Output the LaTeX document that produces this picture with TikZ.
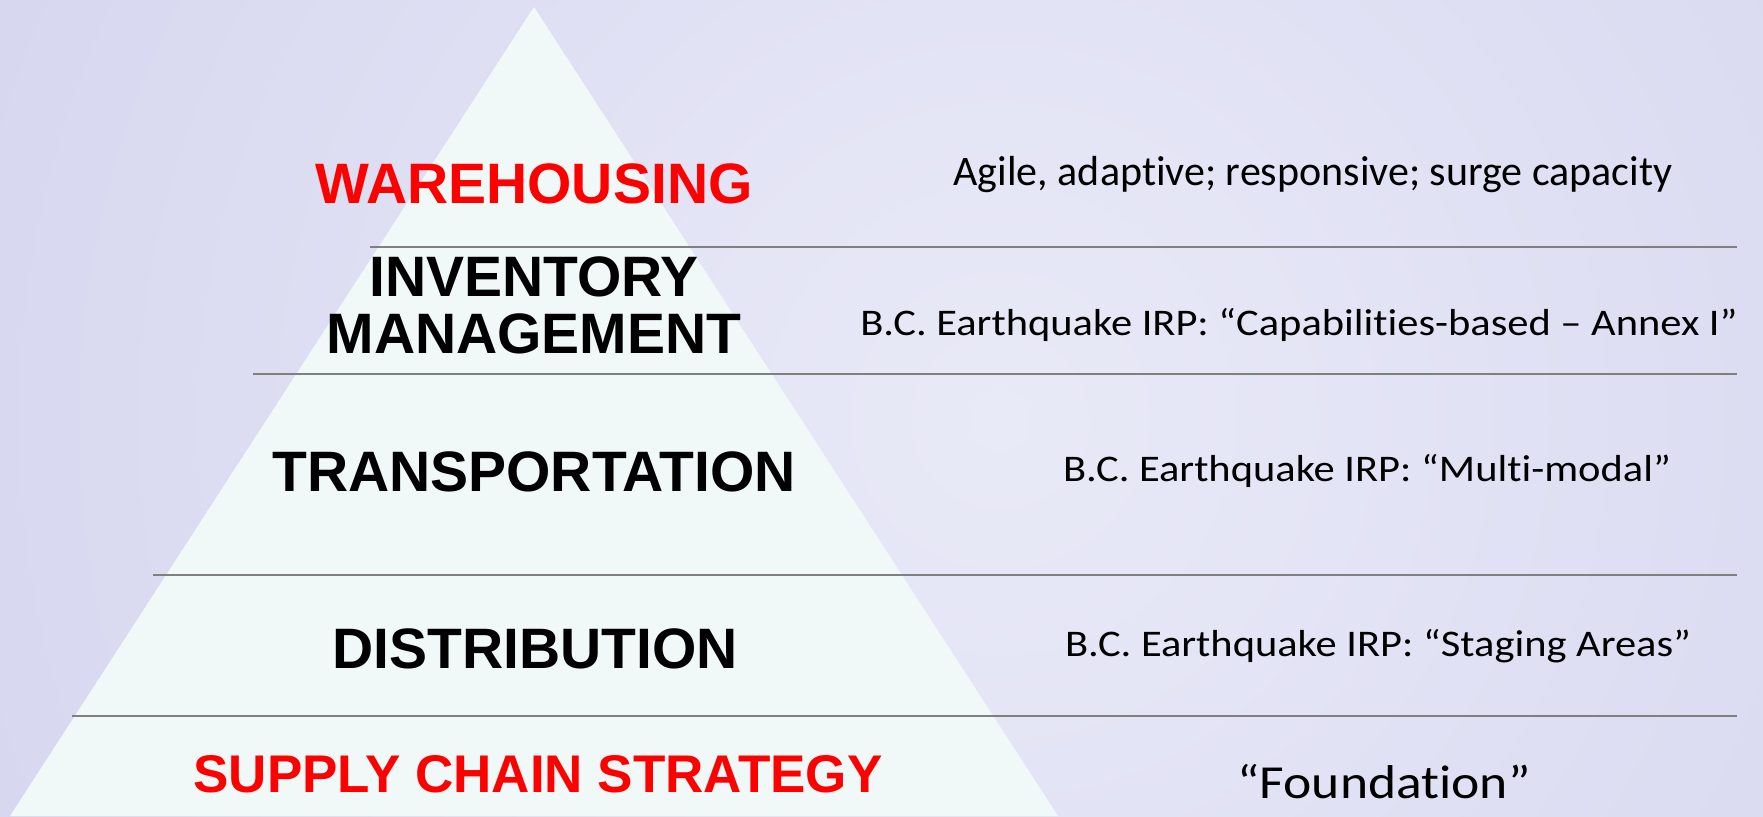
\documentclass[tikz,border=0pt]{standalone}
\usepackage{fontspec}
\setmainfont{Carlito}[Ligatures=NoCommon]
\newfontfamily\widenote{Carlito}[Ligatures=NoCommon, FakeStretch=1.13]
\newfontfamily\tierfont{Liberation Sans}
\usetikzlibrary{positioning}
\definecolor{bgin}{HTML}{E9EAF7}
\definecolor{bgout}{HTML}{C4C4E9}
\definecolor{pyrfill}{HTML}{F1F9F8}
\definecolor{rulegray}{HTML}{808080}
\definecolor{tierred}{HTML}{FF0000}
\tikzset{
	tier/.style={inner sep=0pt, anchor=base, font=\tierfont\bfseries\fontsize{28.5}{28.5}\selectfont, align=center},
	note/.style={inner sep=0pt, anchor=base, font=\widenote\fontsize{18.8}{20}\selectfont},
	tierrule/.style={line width=1.3pt, rulegray}
}

\begin{document}
\begin{tikzpicture}[x=0.5pt, y=-0.5pt]
		%%%%% START %%%%%
		\useasboundingbox (0, 0) rectangle (1763, 816);
		
		\begin{scope}
			\clip (0, 0) rectangle (1763, 816);
			\shade[inner color=bgin, outer color=bgout] (1000, 420) circle (2200);
			\fill[pyrfill] (534, 7) -- (1058, 816) -- (10, 816) -- cycle;
		\end{scope}
		
		% rules between the tiers
		\draw[tierrule] (370, 247) -- (1737, 247);
		\draw[tierrule] (253, 374) -- (1737, 374);
		\draw[tierrule] (153, 575) -- (1737, 575);
		\draw[tierrule] (72, 716) -- (1737, 716);
		
		% pyramid tiers
		\node[tier, text=tierred] (warehousing) at (534, 203) {WAREHOUSING};
		\node[tier, anchor=north] (inventory) at (534, 256) {INVENTORY\\MANAGEMENT};
		\node[tier] (transport) at (534, 491) {TRANSPORTATION};
		\node[tier] (distribution) at (535, 668) {DISTRIBUTION};
		\node[tier, text=tierred, font=\tierfont\bfseries\fontsize{26.5}{26.5}\selectfont] (strategy) at (538, 792) {SUPPLY CHAIN STRATEGY};
		
		% notes on the right
		\node[note, font=\fontsize{21}{22}\selectfont] (agile) at (1313, 185) {Agile, adaptive; responsive; surge capacity};
		\node[note] (capab) at (1299, 335) {B.C. Earthquake IRP: “Capabilities-based – Annex I”};
		\node[note] (multimodal) at (1367, 481) {B.C. Earthquake IRP: “Multi-modal”};
		\node[note] (staging) at (1378, 656) {B.C. Earthquake IRP: “Staging Areas”};
		\node[note, font=\widenote\fontsize{23.7}{25}\selectfont] (foundation) at (1384, 798) {“Foundation”};
		
		%%%%% END %%%%%
	\end{tikzpicture}
\end{document}
